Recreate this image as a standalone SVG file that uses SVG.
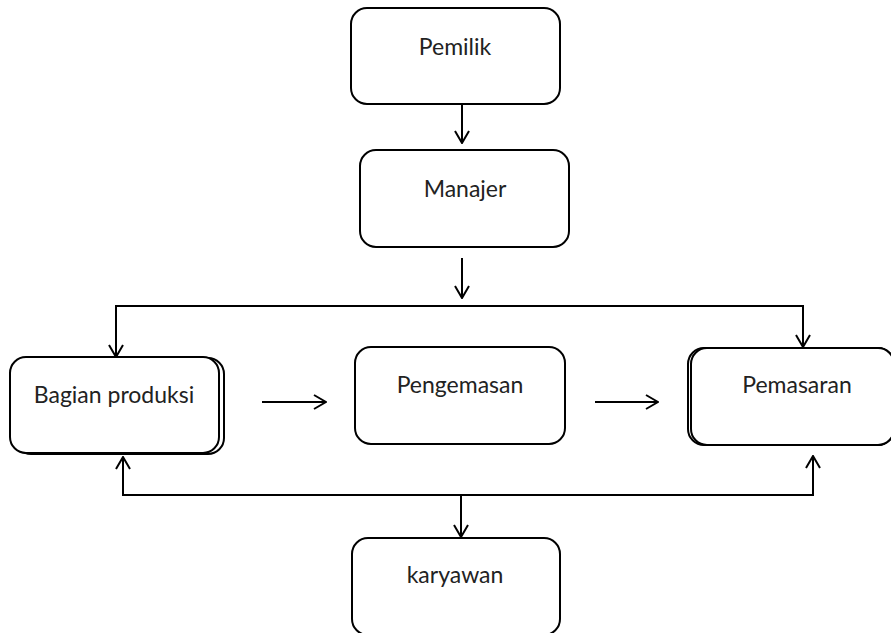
<svg xmlns="http://www.w3.org/2000/svg" width="891" height="633" viewBox="0 0 891 633">
<style>
.box{fill:#fff;stroke:#000;stroke-width:2}
.lbl{font-family:Lato,"Liberation Sans",sans-serif;font-size:23px;fill:#222;text-anchor:middle}
.con{fill:none;stroke:#000;stroke-width:2}
</style>
<defs>
<marker id="ah" viewBox="0 0 16 16" refX="15" refY="8" markerWidth="16" markerHeight="16" markerUnits="userSpaceOnUse" orient="auto-start-reverse">
<path d="M3,1 L15,8 L3,15" fill="none" stroke="#000" stroke-width="2"/>
</marker>
</defs>
<rect width="891" height="633" fill="#fff"/>
<g id="connectors">
<line class="con" x1="462" y1="104" x2="462" y2="143" marker-end="url(#ah)"/>
<line class="con" x1="462" y1="258" x2="462" y2="298" marker-end="url(#ah)"/>
<path class="con" d="M116,357 L116,306 L803,306 L803,347" marker-start="url(#ah)" marker-end="url(#ah)"/>
<line class="con" x1="262" y1="402" x2="326" y2="402" marker-end="url(#ah)"/>
<line class="con" x1="595" y1="402" x2="658" y2="402" marker-end="url(#ah)"/>
<path class="con" d="M123,457 L123,495 L813,495 L813,456" marker-start="url(#ah)" marker-end="url(#ah)"/>
<line class="con" x1="461" y1="495" x2="461" y2="537" marker-end="url(#ah)"/>
</g>
<g id="pemilik">
<rect class="box" x="351" y="8" width="209" height="96" rx="16"/>
<text class="lbl" x="455" y="55">Pemilik</text>
</g>
<g id="manajer">
<rect class="box" x="360" y="150" width="209" height="97" rx="16"/>
<text class="lbl" x="465" y="197">Manajer</text>
</g>
<g id="bagian-produksi">
<rect class="box" x="15" y="358" width="209" height="96" rx="16"/>
<rect class="box" x="10" y="357" width="209" height="96" rx="16"/>
<text class="lbl" x="114" y="403">Bagian produksi</text>
</g>
<g id="pengemasan">
<rect class="box" x="355" y="347" width="210" height="97" rx="16"/>
<text class="lbl" x="460" y="393">Pengemasan</text>
</g>
<g id="pemasaran">
<rect class="box" x="688" y="348" width="206" height="97" rx="16"/>
<rect class="box" x="691" y="348" width="203" height="97" rx="16"/>
<text class="lbl" x="797" y="393">Pemasaran</text>
</g>
<g id="karyawan">
<rect class="box" x="352" y="538" width="208" height="97" rx="16"/>
<text class="lbl" x="455" y="583">karyawan</text>
</g>
</svg>
